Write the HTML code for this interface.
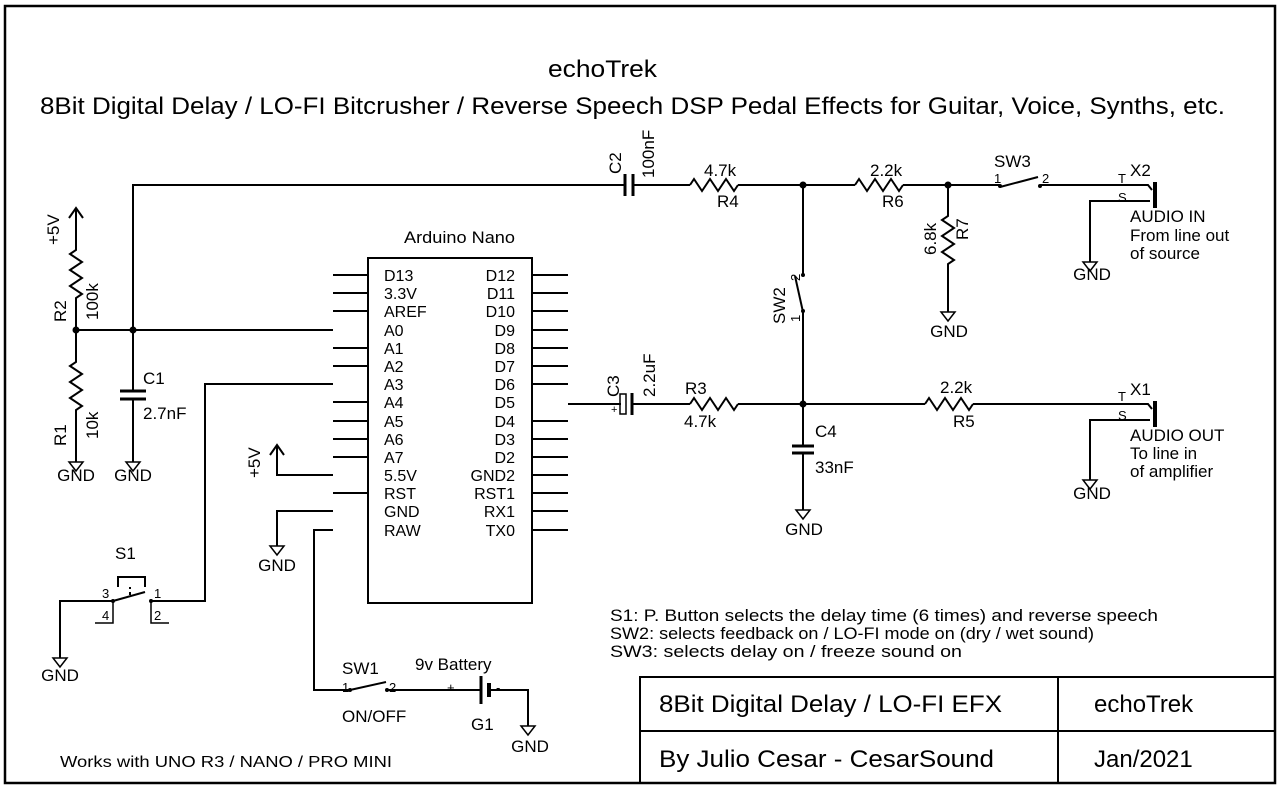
<!DOCTYPE html>
<html><head><meta charset="utf-8"><style>
html,body{margin:0;padding:0;background:#fff;}
svg{display:block;font-family:"Liberation Sans",Arial,sans-serif;}
</style></head><body>
<svg width="1280" height="791" viewBox="0 0 1280 791" xmlns="http://www.w3.org/2000/svg">
<g fill="none" stroke="#000" stroke-width="2">
<rect x="5" y="6" width="1270" height="777" stroke-width="2.5"/>
<path d="M640,783 V677 H1275 M1058,677 V783 M640,731 H1275"/>
<rect x="368" y="258" width="164" height="345"/>
<path d="M333,275h35M333,293h35M333,311h35M333,348h35M333,366h35M333,402h35M333,421h35M333,439h35M333,457h35M333,493h35
M532,275h36M532,293h36M532,311h36M532,330h36M532,348h36M532,366h36M532,384h36M532,421h36M532,439h36M532,457h36M532,475h36M532,493h36M532,511h36M532,530h36"/>
<path d="M133,330 V185 H625 M633,185 H690 M738,185 H855 M903,185 H1000 M1040,185 H1120 L1148,185 l4,5"/>
<path d="M625,174 v22 M633,174 v22" stroke-width="3"/>
<path d="M690,185 l4,-6 l8,12 l8,-12 l8,12 l8,-12 l8,12 l4,-6"/>
<path d="M855,185 l4,-6 l8,12 l8,-12 l8,12 l8,-12 l8,12 l4,-6"/>
<path d="M1000,187 L1038,177"/>
<path d="M1155,182 V208" stroke-width="4"/>
<path d="M1150,201 H1090 V262"/>
<path d="M948,185 V216 l-6,4 l12,8 l-12,8 l12,8 l-12,8 l12,8 l-6,4 V312"/>
<path d="M803,185 V274 M803,312 V446 M803,453 V510"/>
<path d="M803,312 L795,276"/>
<path d="M792,446 h22 M792,453 h22" stroke-width="3"/>
<path d="M568,404 H621 M633,404 H690 M738,404 H925 M973,404 H1120 L1148,404 l4,5"/>
<rect x="620" y="394" width="6" height="20" stroke-width="1.5"/>
<path d="M632,393 v22" stroke-width="3"/>
<path d="M690,404 l4,-6 l8,12 l8,-12 l8,12 l8,-12 l8,12 l4,-6"/>
<path d="M925,404 l4,-6 l8,12 l8,-12 l8,12 l8,-12 l8,12 l4,-6"/>
<path d="M1155,401 V427" stroke-width="4"/>
<path d="M1150,420 H1090 V480"/>
<path d="M76,208 V250 l-6,4 l12,8 l-12,8 l12,8 l-12,8 l12,8 l-6,4 V362 l-6,4 l12,8 l-12,8 l12,8 l-12,8 l12,8 l-6,4 V462"/>
<path d="M69,218 l7,-10 l7,10"/>
<path d="M76,330 H333"/>
<path d="M133,330 V391 M133,399 V462"/>
<path d="M120,391 h26 M120,399 h26" stroke-width="3"/>
<path d="M333,384 H205 V601 H151"/>
<path d="M113,601 H60 V658"/>
<path d="M113,601 L145,592"/>
<path d="M130,595 v-8" stroke-dasharray="3,3"/>
<path d="M118,587 v-10 h27 v10"/>
<path d="M113,601 v22 h-18 M151,601 v22 h18" stroke-width="1.5"/>
<path d="M333,475 H277 V445 M270,455 l7,-10 l7,10"/>
<path d="M333,511 H277 V546"/>
<path d="M333,530 H314 V690 H350 M387,690 H481 M489,690 H528 V726"/>
<path d="M350,690 L386,682"/>
<path d="M481,676 v28" stroke-width="3"/>
<path d="M489,683 v14" stroke-width="4"/>
</g>
<g fill="#000">
<circle cx="76" cy="330" r="3.5"/><circle cx="133" cy="330" r="3.5"/>
<circle cx="803" cy="185" r="3.5"/><circle cx="948" cy="185" r="3.5"/>
<circle cx="803" cy="404" r="3.5"/>
<circle cx="1000" cy="186" r="2"/><circle cx="1040" cy="186" r="2"/>
<circle cx="803" cy="275" r="2"/><circle cx="803" cy="311" r="2"/>
<circle cx="350" cy="690" r="2"/><circle cx="387" cy="690" r="2"/>
<circle cx="113" cy="601" r="2"/><circle cx="151" cy="601" r="2"/>
</g>
<g fill="none" stroke="#000" stroke-width="1.5">
<path d="M69,462 h14 l-7,9 z M126,462 h14 l-7,9 z M270,546 h14 l-7,9 z M53,658 h14 l-7,9 z M521,726 h14 l-7,9 z M796,510 h14 l-7,9 z M941,312 h14 l-7,9 z M1083,262 h14 l-7,9 z M1083,480 h14 l-7,9 z"/>
</g>
<g font-size="17" fill="#000" text-anchor="middle">
<text x="76" y="481">GND</text><text x="133" y="481">GND</text><text x="277" y="571">GND</text>
<text x="60" y="681">GND</text><text x="530" y="752">GND</text><text x="804" y="535">GND</text>
<text x="949" y="337">GND</text><text x="1092" y="280">GND</text><text x="1092" y="499">GND</text>
</g>
<g fill="#000" font-size="16">
<text x="548" y="77" font-size="24" textLength="109" lengthAdjust="spacingAndGlyphs">echoTrek</text>
<text x="40" y="114" font-size="24" textLength="1185" lengthAdjust="spacingAndGlyphs">8Bit Digital Delay / LO-FI Bitcrusher / Reverse Speech DSP Pedal Effects for Guitar, Voice, Synths, etc.</text>
<text x="404" y="243" font-size="17" textLength="111" lengthAdjust="spacingAndGlyphs">Arduino Nano</text>
<text x="384" y="281">D13</text><text x="384" y="299">3.3V</text><text x="384" y="317">AREF</text><text x="384" y="336">A0</text>
<text x="384" y="354">A1</text><text x="384" y="372">A2</text><text x="384" y="390">A3</text><text x="384" y="408">A4</text>
<text x="384" y="427">A5</text><text x="384" y="445">A6</text><text x="384" y="463">A7</text><text x="384" y="481">5.5V</text>
<text x="384" y="499">RST</text><text x="384" y="517">GND</text><text x="384" y="536">RAW</text>
<g text-anchor="end">
<text x="515" y="281">D12</text><text x="515" y="299">D11</text><text x="515" y="317">D10</text><text x="515" y="336">D9</text>
<text x="515" y="354">D8</text><text x="515" y="372">D7</text><text x="515" y="390">D6</text><text x="515" y="408">D5</text>
<text x="515" y="427">D4</text><text x="515" y="445">D3</text><text x="515" y="463">D2</text><text x="515" y="481">GND2</text>
<text x="515" y="499">RST1</text><text x="515" y="517">RX1</text><text x="515" y="536">TX0</text>
</g>
<text font-size="17" transform="translate(59,245) rotate(-90)">+5V</text>
<text font-size="17" transform="translate(66,322) rotate(-90)">R2</text>
<text font-size="17" transform="translate(98,320) rotate(-90)">100k</text>
<text font-size="17" transform="translate(66,446) rotate(-90)">R1</text>
<text font-size="17" transform="translate(98,439) rotate(-90)">10k</text>
<text font-size="17" x="143" y="384">C1</text><text font-size="17" x="143" y="419">2.7nF</text>
<text font-size="17" transform="translate(260,478) rotate(-90)">+5V</text>
<text font-size="17" x="115" y="559">S1</text>
<text font-size="13" x="102" y="598">3</text><text font-size="13" x="154" y="598">1</text>
<text font-size="13" x="102" y="620">4</text><text font-size="13" x="154" y="620">2</text>
<text font-size="17" x="342" y="674">SW1</text>
<text font-size="13" x="342" y="692">1</text><text font-size="13" x="389" y="692">2</text>
<text font-size="17" x="342" y="722">ON/OFF</text>
<text font-size="17" x="415" y="670">9v Battery</text>
<text font-size="13" x="447" y="692">+</text><text font-size="13" x="496" y="692">-</text>
<text font-size="17" x="471" y="730">G1</text>
<text font-size="16" x="60" y="767" textLength="332" lengthAdjust="spacingAndGlyphs">Works with UNO R3 / NANO / PRO MINI</text>
<text font-size="17" transform="translate(621,174) rotate(-90)">C2</text>
<text font-size="17" transform="translate(654,178) rotate(-90)">100nF</text>
<text font-size="17" x="704" y="176">4.7k</text><text font-size="17" x="717" y="207">R4</text>
<text font-size="17" x="870" y="176">2.2k</text><text font-size="17" x="882" y="207">R6</text>
<text font-size="17" x="994" y="167">SW3</text>
<text font-size="13" x="994" y="183">1</text><text font-size="13" x="1042" y="183">2</text>
<text font-size="13" x="1118" y="183">T</text><text font-size="13" x="1118" y="202">S</text>
<text font-size="17" x="1130" y="176">X2</text>
<text font-size="17" x="1130" y="222">AUDIO IN</text>
<text font-size="17" x="1130" y="241">From line out</text>
<text font-size="17" x="1130" y="259">of source</text>
<text font-size="17" transform="translate(936,255) rotate(-90)">6.8k</text>
<text font-size="17" transform="translate(968,240) rotate(-90)">R7</text>
<text font-size="17" transform="translate(785,324) rotate(-90)">SW2</text>
<text font-size="13" transform="translate(800,281) rotate(-90)">2</text>
<text font-size="13" transform="translate(800,322) rotate(-90)">1</text>
<text font-size="17" transform="translate(619,397) rotate(-90)">C3</text>
<text font-size="17" transform="translate(655,397) rotate(-90)">2.2uF</text>
<text font-size="11" x="611" y="413">+</text>
<text font-size="17" x="685" y="394">R3</text><text font-size="17" x="684" y="427">4.7k</text>
<text font-size="17" x="815" y="437">C4</text><text font-size="17" x="815" y="473">33nF</text>
<text font-size="17" x="940" y="393">2.2k</text><text font-size="17" x="953" y="427">R5</text>
<text font-size="13" x="1118" y="401">T</text><text font-size="13" x="1118" y="420">S</text>
<text font-size="17" x="1130" y="395">X1</text>
<text font-size="17" x="1130" y="441">AUDIO OUT</text>
<text font-size="17" x="1130" y="459">To line in</text>
<text font-size="17" x="1130" y="477">of amplifier</text>
<text font-size="17" x="610" y="621" textLength="548" lengthAdjust="spacingAndGlyphs">S1: P. Button selects the delay time (6 times) and reverse speech</text>
<text font-size="17" x="610" y="639" textLength="484" lengthAdjust="spacingAndGlyphs">SW2: selects feedback on / LO-FI mode on (dry / wet sound)</text>
<text font-size="17" x="610" y="657" textLength="352" lengthAdjust="spacingAndGlyphs">SW3: selects delay on / freeze sound on</text>
<text font-size="24" x="659" y="712" textLength="343" lengthAdjust="spacingAndGlyphs">8Bit Digital Delay / LO-FI EFX</text>
<text font-size="24" x="1094" y="712">echoTrek</text>
<text font-size="24" x="659" y="767" textLength="335" lengthAdjust="spacingAndGlyphs">By Julio Cesar - CesarSound</text>
<text font-size="24" x="1094" y="767">Jan/2021</text>
</g>
</svg>
</body></html>
